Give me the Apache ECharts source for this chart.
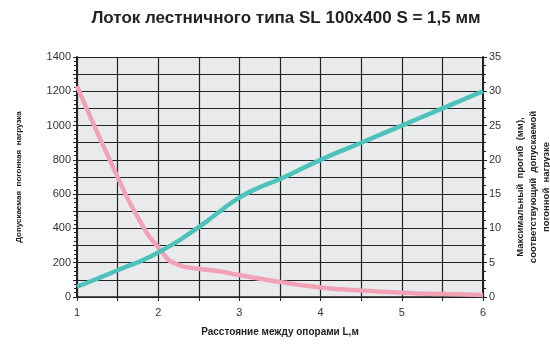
<!DOCTYPE html>
<html><head><meta charset="utf-8">
<script src="https://cdn.jsdelivr.net/npm/echarts@6/dist/echarts.min.js"></script>
<style>html,body{margin:0;padding:0;background:#fff}#c{width:550px;height:344px}</style>
</head><body><div id="c"></div>
<script>
const titleText = 'Лоток лестничного типа SL 100x400 S = 1,5 мм';
const xName = 'Расстояние между опорами L,м';
const yLeftName = 'Допускаемая  погонная  нагрузка';
const yRightName = 'Максимальный  прогиб  (мм),\nсоответствующий  допускаемой\nпогонной  нагрузке';
const loadX = [1, 1.5, 1.75, 2, 2.25, 2.5, 2.75, 3, 3.5, 4, 4.5, 5, 5.5, 6];
const loadY = [1230, 700, 465, 290, 188, 165, 150, 128, 88, 56, 38, 25, 17, 12];
const deflX = [1, 1.5, 2, 2.5, 2.75, 3, 3.25, 3.5, 4, 4.5, 5, 5.5, 6];
const deflY = [1.5, 3.9, 6.5, 10.2, 12.4, 14.5, 16.0, 17.2, 20, 22.5, 25, 27.5, 30];

const chart = echarts.init(document.getElementById('c'));
const font = 'Liberation Sans, Arial, sans-serif';
chart.setOption({
  animation: false,
  backgroundColor: '#fff',
  title: {text: titleText, left: 281, top: 5, textAlign: 'center',
    textStyle: {fontFamily: font, fontSize: 17, fontWeight: 'bold', color: '#222'}},
  grid: {left: 77, right: 67, top: 57, bottom: 47, show: true, backgroundColor: '#e9eaec', borderWidth: 0,
    outerBoundsMode: 'none', containLabel: false},
  xAxis: {type: 'value', min: 1, max: 6, interval: 0.5,
    name: xName, nameLocation: 'middle', nameGap: 30,
    nameTextStyle: {fontFamily: font, fontSize: 10, fontWeight: 'bold', color: '#222'},
    axisLine: {lineStyle: {color: '#222', width: 1.5}},
    axisTick: {show: true, length: 4, lineStyle: {color: '#222'}},
    axisLabel: {fontFamily: font, fontSize: 11, color: '#333', margin: 10,
      formatter: v => (Math.abs(v - Math.round(v)) < 1e-6 ? String(Math.round(v)) : '')},
    splitLine: {show: true, lineStyle: {color: '#222', width: 1.2}}},
  yAxis: [
    {type: 'value', min: 0, max: 1400, interval: 100, position: 'left',
      name: yLeftName, nameLocation: 'middle', nameGap: 48, nameRotate: 90,
      nameTextStyle: {fontFamily: font, fontSize: 8, fontWeight: 'bold', color: '#222', padding: [0, 0, 6, 0]},
      axisLine: {show: true, lineStyle: {color: '#222', width: 2}},
      axisTick: {show: true, length: 4, lineStyle: {color: '#222'}},
      minorTick: {show: true, splitNumber: 4, length: 3, lineStyle: {color: '#222'}},
      axisLabel: {fontFamily: font, fontSize: 11, color: '#333', margin: 6,
        formatter: v => (v % 200 === 0 ? String(v) : '')},
      splitLine: {show: true, lineStyle: {color: '#222', width: 1.2}}},
    {type: 'value', min: 0, max: 35, interval: 5, position: 'right',
      name: yRightName, nameLocation: 'middle', nameGap: 31, nameRotate: 90,
      nameTextStyle: {fontFamily: font, fontSize: 9.5, fontWeight: 'bold', color: '#222', lineHeight: 13, verticalAlign: 'top', padding: [0, 20, 10, 0]},
      axisLine: {show: true, lineStyle: {color: '#222', width: 2}},
      axisTick: {show: true, length: 4, lineStyle: {color: '#222'}},
      minorTick: {show: true, splitNumber: 4, length: 3, lineStyle: {color: '#222'}},
      axisLabel: {fontFamily: font, fontSize: 11, color: '#333', margin: 6},
      splitLine: {show: false}}
  ],
  series: [
    {type: 'line', yAxisIndex: 0, smooth: 0.6, showSymbol: false,
      data: loadX.map((x, i) => [x, loadY[i]]),
      lineStyle: {color: '#f2a2b6', width: 4.5}},
    {type: 'line', yAxisIndex: 1, smooth: 0.6, showSymbol: false,
      data: deflX.map((x, i) => [x, deflY[i]]),
      lineStyle: {color: '#4cc2bb', width: 4.5}}
  ]
});
</script></body></html>
